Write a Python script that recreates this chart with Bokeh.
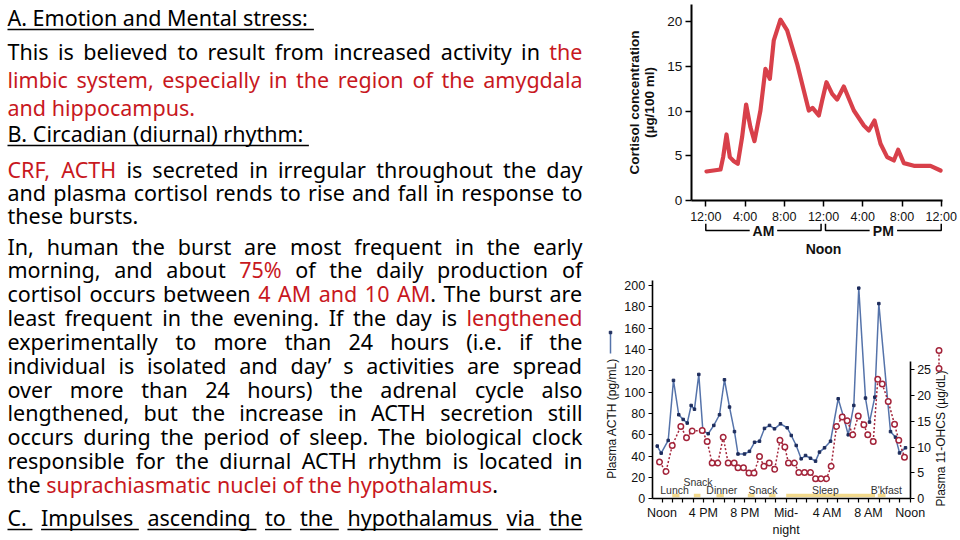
import os, struct, math
from bokeh.plotting import figure
from bokeh.models import LinearAxis, FixedTicker, Range1d, ColumnDataSource
from bokeh.layouts import row, column
from bokeh.core.properties import value
from bokeh.embed import file_html
from bokeh.resources import INLINE

# ------------------------------------------------------------------ data
RED = "#C8181E"
BLK = "#000000"

# slide text: (segments, alignment, underline)
text_lines = [
    ([("A. Emotion and Mental stress: ", BLK)], "left", "full"),
    ([("This is believed to result from increased activity in ", BLK), ("the", RED)], "justify", None),
    ([("limbic system, especially in the region of the amygdala", RED)], "justify", None),
    ([("and hippocampus.", RED)], "left", None),
    ([("B. Circadian (diurnal) rhythm: ", BLK)], "left", "full"),
    ([("CRF, ACTH", RED), (" is secreted in irregular throughout the day", BLK)], "justify", None),
    ([("and plasma cortisol rends to rise and fall in response to", BLK)], "justify", None),
    ([("these bursts.", BLK)], "left", None),
    ([("In, human the burst are most frequent in the early", BLK)], "justify", None),
    ([("morning, and about ", BLK), ("75%", RED), (" of the daily production of", BLK)], "justify", None),
    ([("cortisol occurs between ", BLK), ("4 AM and 10 AM", RED), (". The burst are", BLK)], "justify", None),
    ([("least frequent in the evening. If the day is ", BLK), ("lengthened", RED)], "justify", None),
    ([("experimentally to more than 24 hours (i.e. if the", BLK)], "justify", None),
    ([("individual is isolated and day\u2019 s activities are spread", BLK)], "justify", None),
    ([("over more than 24 hours) the adrenal cycle also", BLK)], "justify", None),
    ([("lengthened, but the increase in ACTH secretion still", BLK)], "justify", None),
    ([("occurs during the period of sleep. The biological clock", BLK)], "justify", None),
    ([("responsible for the diurnal ACTH rhythm is located in", BLK)], "justify", None),
    ([("the ", BLK), ("suprachiasmatic nuclei of the hypothalamus", RED), (".", BLK)], "left", None),
    ([("C. Impulses ascending to the hypothalamus via the", BLK)], "justify", "words"),
]
text_centers = [18, 52, 80, 108, 134, 170, 193, 216, 247, 270, 294, 318, 342, 366,
                390, 413, 437, 461, 485, 518]

# chart 1: cortisol over 24 h (hours after midnight)
cortisol_hours = [0.07, 1.50, 1.77, 2.11, 2.45, 2.86, 3.26, 3.70, 4.11, 4.55, 4.96, 5.57,
                  6.08, 6.53, 6.93, 7.61, 8.29, 9.31, 9.99, 10.50, 10.88, 11.52, 11.86,
                  12.30, 12.88, 13.39, 14.07, 15.09, 16.11, 16.62, 17.20, 17.81, 18.49,
                  19.17, 19.61, 20.19, 21.21, 22.90, 23.93]
cortisol_values = [3.27, 3.49, 4.87, 7.40, 4.87, 4.42, 4.13, 7.10, 10.74, 8.20, 6.65, 10.07,
                   14.72, 13.60, 17.90, 20.20, 19.00, 15.28, 12.30, 10.07, 10.37, 9.52, 11.19,
                   13.23, 11.93, 11.30, 12.75, 10.07, 8.40, 7.84, 8.96, 6.36, 4.87,
                   4.50, 5.69, 4.20, 3.90, 3.90, 3.38]
x1_ticks = [0, 4, 8, 12, 16, 20, 24]
x1_labels = ["12:00", "4:00", "8:00", "12:00", "4:00", "8:00", "12:00"]
y1_ticks = [0, 5, 10, 15, 20]

# chart 2: ACTH and 11-OHCS (hours after noon)
acth_hours = [-0.46, -0.08, 0.60, 1.11, 1.62, 2.05, 2.44, 2.82, 3.14, 3.56, 3.95, 4.47, 5.01,
              5.56, 6.04, 6.53, 7.01, 7.35, 7.98, 8.46, 8.95, 9.43, 9.91, 10.40, 10.88, 11.46,
              12.11, 12.50, 12.98, 13.46, 13.88, 14.36, 14.85, 15.23, 15.72, 16.30, 17.04,
              17.52, 18.01, 18.55, 19.03, 19.68, 20.07, 20.58, 20.97, 22.10, 22.58, 22.97, 23.55]
acth_values = [49.4, 42.8, 54.7, 111.0, 78.8, 74.4, 71.0, 87.5, 84.0, 116.6, 64.0, 61.0, 68.8,
               78.8, 111.6, 86.0, 63.0, 42.0, 42.0, 44.5, 53.0, 54.0, 66.0, 68.8, 65.6, 70.3,
               66.6, 59.4, 50.0, 37.5, 40.6, 38.0, 35.3, 43.8, 47.8, 54.0, 93.8,
               78.0, 60.0, 87.5, 197.5, 94.4, 71.9, 95.3, 183.0, 63.0, 57.8, 43.0, 47.8]
ohcs_hours = [-0.24, 0.39, 0.99, 1.82, 2.37, 2.92, 3.89, 4.37, 4.85, 5.40, 5.92, 6.40, 6.98,
              7.35, 7.88, 8.41, 8.90, 9.43, 9.86, 10.37, 10.90, 11.41, 11.88, 12.23, 12.81,
              13.23, 13.78, 14.36, 14.85, 15.38, 15.91, 16.36, 16.88, 17.43, 17.91, 18.45,
              18.98, 19.52, 19.90, 20.43, 20.87, 21.30, 21.88, 22.49, 22.90, 23.45]
ohcs_values = [7.1, 5.3, 10.3, 14.0, 11.8, 13.1, 13.2, 11.1, 6.9, 6.9, 11.9, 6.9, 6.9,
               6.0, 6.0, 5.0, 5.0, 8.2, 6.3, 6.9, 5.7, 11.3, 10.0, 6.9, 6.9,
               5.1, 5.1, 5.1, 3.9, 3.9, 3.9, 6.3, 14.0, 15.8, 15.1, 12.4,
               16.0, 14.3, 12.4, 11.1, 23.1, 22.2, 18.8, 14.4, 11.3, 8.05]
x2_ticks = list(range(0, 25))
x2_label_hours = [0, 4, 8, 12, 16, 20, 24]
x2_labels = ["Noon", "4 PM", "8 PM", "Mid-\nnight", "4 AM", "8 AM", "Noon"]
y2_ticks = list(range(0, 201, 20))
y2r_ticks = [0, 5, 10, 15, 20, 25]
meal_start = [0.99, 3.08, 5.27, 8.30, 10.33, 12.01, 20.87]
meal_end = [1.69, 3.72, 5.98, 8.95, 10.98, 20.60, 21.62]
meal_label_names = ["Lunch", "Snack", "Dinner", "Snack", "Sleep", "B'kfast"]
meal_label_hours = [1.21, 3.48, 5.78, 9.77, 15.80, 21.70]
meal_label_rows = [0, 1, 0, 0, 0, 0]

# ------------------------------------------------------------------ font metrics
def find_font():
    roots = ["/usr/share/fonts", "/usr/local/share/fonts",
             os.path.expanduser("~/.fonts"), os.path.expanduser("~/.local/share/fonts")]
    files = {}
    for r in roots:
        for dp, dn, fn in os.walk(r):
            for f in fn:
                files.setdefault(f.lower(), os.path.join(dp, f))
    cands = [("Noto Sans", ["notosans-regular.ttf", "notosans-regular.otf", "notosans[wdth,wght].ttf",
                            "notosans-variablefont_wdth,wght.ttf"]),
             ("Open Sans", ["opensans-regular.ttf", "opensans[wdth,wght].ttf",
                            "opensans-variablefont_wdth,wght.ttf"])]
    for fam, names in cands:
        for n in names:
            if n in files:
                return fam, files[n]
    return "Noto Sans", None


def load_widths(path):
    with open(path, "rb") as f:
        data = f.read()
    off0 = struct.unpack(">I", data[12:16])[0] if data[:4] == b"ttcf" else 0
    num = struct.unpack(">H", data[off0 + 4:off0 + 6])[0]
    tabs = {}
    for i in range(num):
        rec = off0 + 12 + 16 * i
        tag = data[rec:rec + 4].decode("latin-1")
        toff = struct.unpack(">I", data[rec + 8:rec + 12])[0]
        tabs[tag] = toff
    upem = struct.unpack(">H", data[tabs["head"] + 18:tabs["head"] + 20])[0]
    nhm = struct.unpack(">H", data[tabs["hhea"] + 34:tabs["hhea"] + 36])[0]
    hm = tabs["hmtx"]
    adv = [struct.unpack(">H", data[hm + 4 * i:hm + 4 * i + 2])[0] for i in range(nhm)]
    cm = tabs["cmap"]
    nsub = struct.unpack(">H", data[cm + 2:cm + 4])[0]
    cmap = {}
    for i in range(nsub):
        pid, eid, so = struct.unpack(">HHI", data[cm + 4 + 8 * i:cm + 12 + 8 * i])
        st = cm + so
        fmt = struct.unpack(">H", data[st:st + 2])[0]
        if fmt != 4:
            continue
        segx2 = struct.unpack(">H", data[st + 6:st + 8])[0]
        n = segx2 // 2
        ends = struct.unpack(">%dH" % n, data[st + 14:st + 14 + segx2])
        starts = struct.unpack(">%dH" % n, data[st + 16 + segx2:st + 16 + 2 * segx2])
        deltas = struct.unpack(">%dh" % n, data[st + 16 + 2 * segx2:st + 16 + 3 * segx2])
        rpos = st + 16 + 3 * segx2
        ros = struct.unpack(">%dH" % n, data[rpos:rpos + segx2])
        for k in range(n):
            for c in range(starts[k], min(ends[k], 0x2FFF) + 1):
                if ros[k] == 0:
                    g = (c + deltas[k]) & 0xFFFF
                else:
                    a = rpos + 2 * k + ros[k] + 2 * (c - starts[k])
                    g = struct.unpack(">H", data[a:a + 2])[0]
                    if g:
                        g = (g + deltas[k]) & 0xFFFF
                cmap.setdefault(c, g)
        if cmap:
            break

    def w(s):
        t = 0
        for ch in s:
            g = cmap.get(ord(ch), 0)
            t += adv[min(g, nhm - 1)]
        return t / upem
    return w


TEXT_FONT, font_path = find_font()
try:
    em_width = load_widths(font_path)
except Exception:
    em_width = lambda s: 0.55 * len(s)

LEFT, RIGHT = 7.0, 582.0
MIN_GAP = 0.6   # smallest word gap in a justified line, in spaces


def split_words(segs):
    words, cur = [], []
    for text, col in segs:
        parts = text.split(" ")
        for i, part in enumerate(parts):
            if i > 0 and cur:
                words.append(cur)
                cur = []
            if part:
                cur.append((part, col))
    if cur:
        words.append(cur)
    return words


size = 21.5
sp_em = em_width(" ")
for segs, mode, ul in text_lines:
    if mode == "justify":
        ws = split_words(segs)
        words_em = sum(em_width(t) for w in ws for t, _ in w)
        size = min(size, (RIGHT - LEFT) / (words_em + (len(ws) - 1) * MIN_GAP * sp_em))
size = round(size, 2)
meas = lambda s: em_width(s) * size

tx, ty, tt, tc = [], [], [], []
ux0, ux1, uy = [], [], []
for (segs, mode, ul), mid in zip(text_lines, text_centers):
    ymid = mid - 1.0
    words = split_words(segs)
    widths = [sum(meas(t) for t, _ in w) for w in words]
    sp = meas(" ")
    if mode == "justify" and len(words) > 1:
        gap = (RIGHT - LEFT - sum(widths)) / (len(words) - 1)
    else:
        gap = sp
    x = LEFT
    ul_y = ymid + 0.56 * size
    for i, (w, wd) in enumerate(zip(words, widths)):
        xx = x
        for t, c in w:
            tx.append(xx); ty.append(ymid); tt.append(t); tc.append(c)
            xx += meas(t)
        if ul == "words":
            ux0.append(x); ux1.append(x + wd + (sp if i < len(words) - 1 else 0)); uy.append(ul_y)
        x += wd + gap
    if ul == "full":
        ux0.append(LEFT); ux1.append(x - gap + sp); uy.append(ul_y)

tf = figure(width=600, height=540, x_range=Range1d(0, 600), y_range=Range1d(540, 0),
            output_backend="svg", toolbar_location=None, x_axis_type=None, y_axis_type=None,
            min_border=0, outline_line_color=None)
tf.text(x="x", y="y", text="text", text_color="color",
        source=ColumnDataSource(dict(x=tx, y=ty, text=tt, color=tc)),
        text_font=value(TEXT_FONT), text_font_size=value("%.2fpx" % size),
        text_baseline="middle", text_align="left")
tf.segment(x0="x0", y0="y", x1="x1", y1="y", source=ColumnDataSource(dict(x0=ux0, x1=ux1, y=uy)),
           line_color="black", line_width=1.4)

# ------------------------------------------------------------------ chart 1
AX_FONT = "Liberation Sans"
h1 = lambda px: (px - 705.3) / 9.81
v1 = lambda py: (200.3 - py) / 8.965

c1 = figure(width=360, height=270, x_range=Range1d(h1(600), h1(960)), y_range=Range1d(v1(270), v1(0)),
            output_backend="svg", toolbar_location=None, x_axis_type=None, y_axis_type=None,
            min_border=0, outline_line_color=None)
c1.line(cortisol_hours, cortisol_values, line_color="#D8404A", line_width=4.2,
        line_join="round", line_cap="round")

xa1 = LinearAxis(fixed_location=0, bounds=(h1(690.7), h1(942)), ticker=FixedTicker(ticks=x1_ticks),
                 major_label_overrides={t: l for t, l in zip(x1_ticks, x1_labels)})
ya1 = LinearAxis(fixed_location=h1(690.7), bounds=(0, v1(4)), ticker=FixedTicker(ticks=y1_ticks))
for ax in (xa1, ya1):
    ax.axis_line_width = 2
    ax.axis_line_color = "black"
    ax.major_tick_line_width = 1.5
    ax.major_tick_out = 6
    ax.major_tick_in = 0
    ax.minor_tick_line_color = None
    ax.major_label_standoff = 3
    ax.major_label_text_color = "#111111"
    ax.major_label_text_font = AX_FONT
xa1.major_label_text_font_size = "12.5px"
ya1.major_label_text_font_size = "13.5px"
c1.add_layout(xa1, "below")
c1.add_layout(ya1, "left")

# AM / PM brackets under the axis
br_y, br_top = v1(230), v1(223.3)
am = (x1_ticks[0], x1_ticks[3] - 0.25)
pm = (x1_ticks[3] + 0.2, x1_ticks[6])
brx, bry = [], []
for (a, b), half in ((am, 1.4), (pm, 1.4)):
    mid = (a + b) / 2
    brx += [[a, a, mid - half], [mid + half, b, b]]
    bry += [[br_top, br_y, br_y], [br_y, br_y, br_top]]
c1.multi_line(brx, bry, line_color="black", line_width=1.5)
c1.text(x=[(am[0] + am[1]) / 2, (pm[0] + pm[1]) / 2, x1_ticks[3]], y=[br_y, br_y, v1(248.5)],
        text=["AM", "PM", "Noon"], text_font=value(AX_FONT), text_font_style="bold",
        text_font_size=value("14px"), text_align="center", text_baseline="middle", text_color="#111111")
c1.text(x=[h1(634), h1(648.5)], y=[v1(102), v1(102)],
        text=["Cortisol concentration", "(\u00b5g/100 ml)"], angle=math.pi / 2,
        text_font=value(AX_FONT), text_font_style="bold", text_font_size=value("13.5px"),
        text_align="center", text_baseline="middle", text_color="#111111")

# ------------------------------------------------------------------ chart 2
h2 = lambda px: (px - 661.5) / 10.34
v2 = lambda py: (498.3 - py) / 1.0667
r2 = lambda py: (498.3 - py) / 5.173

c2 = figure(width=360, height=270, x_range=Range1d(h2(600), h2(960)), y_range=Range1d(v2(540), v2(270)),
            output_backend="svg", toolbar_location=None, x_axis_type=None, y_axis_type=None,
            min_border=0, outline_line_color=None)
c2.extra_y_ranges = {"r": Range1d(r2(540), r2(270))}

# meal bars
c2.segment(x0=meal_start, x1=meal_end, y0=v2(495), y1=v2(495), line_color="#F2D98C", line_width=3.5)
lab_y = [v2(489) if r == 0 else v2(481) for r in meal_label_rows]
c2.text(x=meal_label_hours, y=lab_y, text=meal_label_names, text_font=value(AX_FONT),
        text_font_size=value("10.5px"), text_align="center", text_baseline="middle", text_color="#333333")

c2.line(acth_hours, acth_values, line_color="#5573AA", line_width=1.5)
c2.scatter(acth_hours, acth_values, marker="square", size=2.5, color="#1D2C5C")
c2.line(ohcs_hours, ohcs_values, y_range_name="r", line_color="#A3243A", line_width=1.5, line_dash="2 2")
c2.scatter(ohcs_hours, ohcs_values, y_range_name="r", marker="circle", size=5.5,
           fill_color="white", line_color="#A3243A", line_width=1.5)

xa2 = LinearAxis(fixed_location=0, bounds=(h2(651.7), 24), ticker=FixedTicker(ticks=x2_ticks),
                 major_label_overrides={t: (x2_labels[x2_label_hours.index(t)] if t in x2_label_hours else "")
                                        for t in x2_ticks})
ya2 = LinearAxis(fixed_location=h2(651.7), bounds=(0, v2(280)), ticker=FixedTicker(ticks=y2_ticks))
yr2 = LinearAxis(y_range_name="r", fixed_location=24, bounds=(0, r2(361)), ticker=FixedTicker(ticks=y2r_ticks))
for ax in (xa2, ya2, yr2):
    ax.axis_line_width = 1.6
    ax.axis_line_color = "black"
    ax.major_tick_line_width = 1.2
    ax.major_tick_out = 4
    ax.major_tick_in = 0
    ax.minor_tick_line_color = None
    ax.major_label_standoff = 3
    ax.major_label_text_font = AX_FONT
    ax.major_label_text_font_size = "12.5px"
    ax.major_label_text_color = "#111111"
c2.add_layout(xa2, "below")
c2.add_layout(ya2, "left")
c2.add_layout(yr2, "right")

# axis titles with their series keys
c2.text(x=[h2(611.5), h2(940.5)], y=[v2(418), v2(438)],
        text=["Plasma ACTH (pg/mL)", "Plasma 11-OHCS (\u00b5g/dL)"], angle=math.pi / 2,
        text_font=value(AX_FONT), text_font_size=value("12px"), text_align="center",
        text_baseline="middle", text_color="#111111")
c2.line([h2(610), h2(610)], [v2(353), v2(333)], line_color="#5573AA", line_width=1.5)
c2.scatter([h2(610)], [v2(332)], marker="square", size=2.5, color="#1D2C5C")
c2.line([h2(938.5), h2(938.5)], [v2(368), v2(350)], line_color="#A3243A", line_width=1.5, line_dash="2 2")
c2.scatter([h2(938.5), h2(938.5)], [v2(368), v2(350)], marker="circle", size=5.5,
           fill_color="white", line_color="#A3243A", line_width=1.5)

layout = row(tf, column(c1, c2))
open("out.html", "w").write(file_html(layout, INLINE))
